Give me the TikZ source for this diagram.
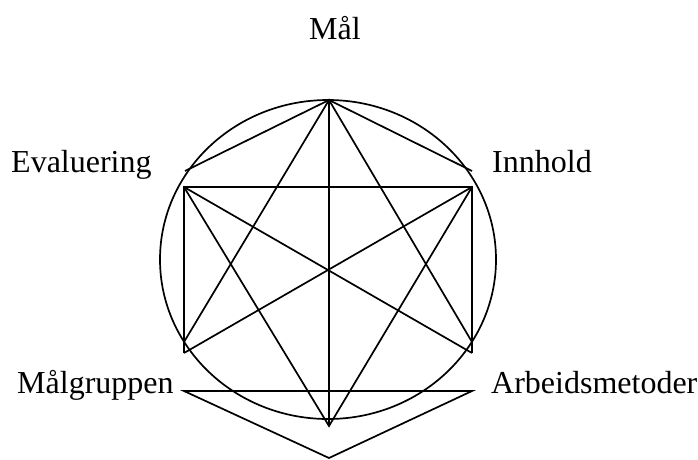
\documentclass[tikz,border=0pt]{standalone}
\usepackage{fontspec}
\setmainfont{Liberation Serif}
\begin{document}
\begin{tikzpicture}[x=1pt,y=-1pt,
  edge/.style={line width=1.7pt,line join=miter},
  lbl/.style={inner sep=0pt,font=\fontsize{32}{37}\selectfont}]
\useasboundingbox (0,0) rectangle (698,459);
% points
\coordinate (T) at (329,100);
\coordinate (A) at (185,171);
\coordinate (B) at (472,171);
\coordinate (P1) at (184,187);
\coordinate (P2) at (472,187);
\coordinate (L2) at (184,342);
\coordinate (R2) at (472,342);
\coordinate (LL) at (184,353);
\coordinate (LR) at (472,353);
\coordinate (V) at (329,426);
\coordinate (G1) at (184,391);
\coordinate (G2) at (472,391);
\coordinate (W) at (329,458);
\coordinate (C) at (328,259.5);
% circle
\draw[edge] (C) ellipse [x radius=168, y radius=159.5];
% lines
\draw[edge] (A) -- (T) -- (B);
\draw[edge] (T) -- (V);
\draw[edge] (L2) -- (T) -- (R2);
\draw[edge] (LL) -- (P1) -- (P2) -- (LR);
\draw[edge] (P1) -- (V) -- (P2);
\draw[edge] (P1) -- (LR);
\draw[edge] (P2) -- (LL);
\draw[edge] (G1) -- (G2) -- (W) -- cycle;
% labels
\node[lbl,anchor=base] (mal) at (335,39) {Mål};
\node[lbl,anchor=base west] (eval) at (11,172) {Evaluering};
\node[lbl,anchor=base west] (inn) at (492,172) {Innhold};
\node[lbl,anchor=base west] (mg) at (17,393) {Målgruppen};
\node[lbl,anchor=base west] (arb) at (491,393) {Arbeidsmetoder};
\end{tikzpicture}
\end{document}
